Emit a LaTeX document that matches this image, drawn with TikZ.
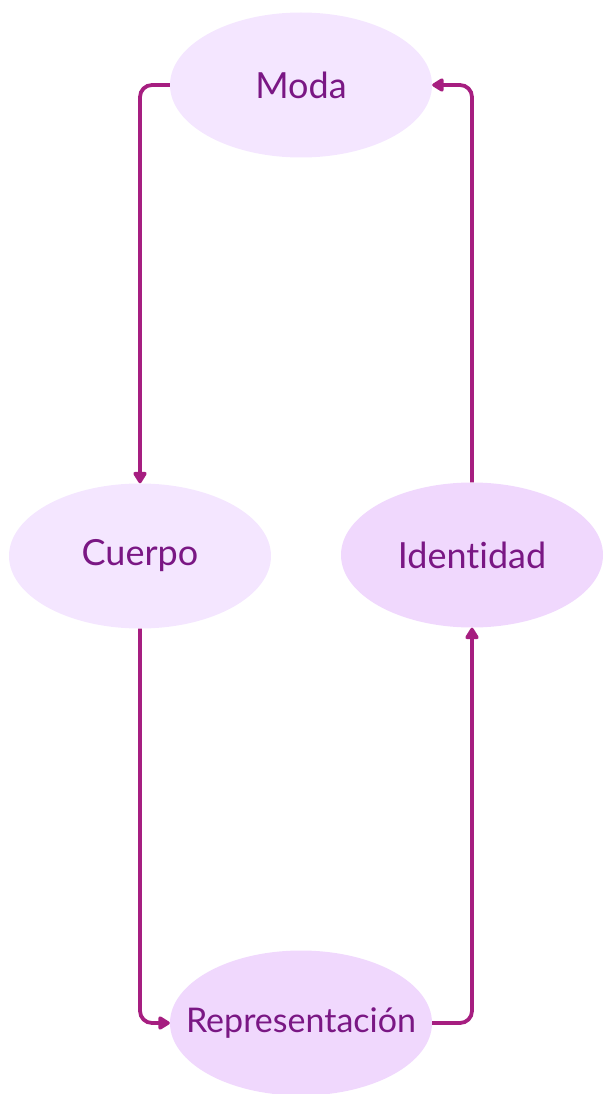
\documentclass[tikz,border=0pt]{standalone}
\usepackage{fontspec}
\setmainfont{Lato}[Ligatures=CommonOff]
\usepackage{xcolor}
\usetikzlibrary{shapes.geometric,arrows.meta,positioning}

\definecolor{lilacA}{HTML}{F4E6FF}
\definecolor{lilacB}{HTML}{F0D8FD}
\definecolor{flowline}{HTML}{A61E80}
\definecolor{flowtext}{HTML}{7A1784}

% label that does not widen the ellipse
\newcommand{\tlabel}[1]{\makebox[0pt][c]{#1}}

\begin{document}
\begin{tikzpicture}[x=1pt, y=-1pt,
    topic/.style={ellipse, fill=#1, text=flowtext, minimum width=262pt, minimum height=145pt, inner sep=0pt, font=\fontsize{36}{42}\selectfont},
    flow/.style={draw=flowline, line width=3.8pt, rounded corners=12pt, -{Triangle[length=13pt, width=15pt, round]}}]
        \useasboundingbox (0,0) rectangle (603,1094);

        % Nodes
        \node (moda) [topic=lilacA] at (301,85) {\tlabel{Moda}};
        \node (cuerpo) [topic=lilacA] at (140,556) {\tlabel{Cuerpo}};
        \node (identidad) [topic=lilacB] at (472,555) {\tlabel{Identidad}};
        \node (repr) [topic=lilacB, font=\fontsize{34}{40}\selectfont] at (301,1023) {\tlabel{Representación}};

        % Cycle
        \draw[flow] (moda.west) -| (cuerpo.north);
        \draw[flow] (cuerpo.south) |- (repr.west);
        \draw[flow] (repr.east) -| (identidad.south);
        \draw[flow] (identidad.north) |- (moda.east);
    \end{tikzpicture}
\end{document}
